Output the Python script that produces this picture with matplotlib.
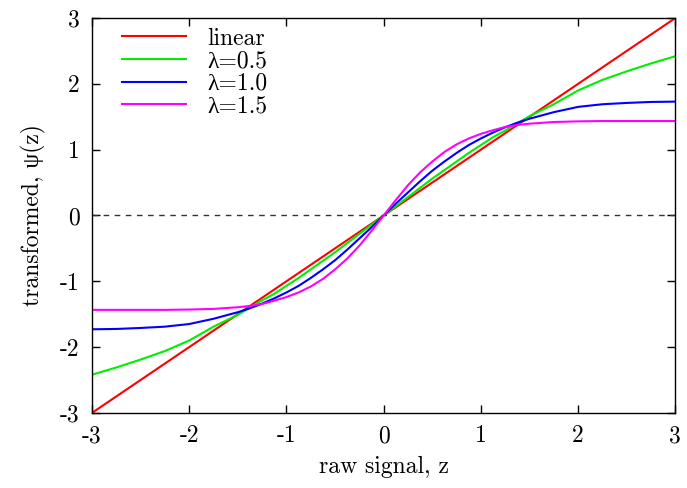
import numpy as np
import matplotlib
matplotlib.use("Agg")
import matplotlib.pyplot as plt

# values
z = [-3.0, -2.75, -2.5, -2.25, -2.0, -1.75, -1.5, -1.375, -1.25, -1.125, -1.0, -0.875,
     -0.75, -0.625, -0.5, -0.375, -0.25, -0.125, 0.0,
     0.125, 0.25, 0.375, 0.5, 0.625, 0.75, 0.875, 1.0, 1.125, 1.25, 1.375, 1.5,
     1.75, 2.0, 2.25, 2.5, 2.75, 3.0]
linear = z
lam05 = [-2.42, -2.31, -2.19, -2.06, -1.90, -1.69, -1.51, -1.40, -1.29, -1.19, -1.07, -0.95,
         -0.82, -0.69, -0.56, -0.42, -0.28, -0.14, 0.0,
         0.14, 0.28, 0.42, 0.56, 0.69, 0.82, 0.95, 1.07, 1.19, 1.29, 1.40, 1.51,
         1.69, 1.90, 2.06, 2.19, 2.31, 2.42]
lam10 = [-1.73, -1.725, -1.71, -1.69, -1.65, -1.57, -1.47, -1.41, -1.34, -1.26, -1.17, -1.07,
         -0.95, -0.82, -0.68, -0.52, -0.35, -0.18, 0.0,
         0.18, 0.35, 0.52, 0.68, 0.82, 0.95, 1.07, 1.17, 1.26, 1.34, 1.41, 1.47,
         1.57, 1.65, 1.69, 1.71, 1.725, 1.73]
lam15 = [-1.435, -1.435, -1.435, -1.435, -1.43, -1.42, -1.395, -1.375, -1.345, -1.295, -1.24, -1.17,
         -1.08, -0.965, -0.82, -0.655, -0.46, -0.235, 0.0,
         0.235, 0.46, 0.655, 0.82, 0.965, 1.08, 1.17, 1.24, 1.295, 1.345, 1.375, 1.395,
         1.42, 1.43, 1.435, 1.435, 1.435, 1.435]

series = [linear, lam05, lam10, lam15]
labels = ['linear', 'λ=0.5', 'λ=1.0', 'λ=1.5']
colors = ['#ff0000', '#00ee00', '#0000ff', '#ff00ff']
ticks = [-3, -2, -1, 0, 1, 2, 3]

plt.rcParams['font.family'] = ['cmr10', 'Liberation Serif', 'DejaVu Serif']
plt.rcParams['axes.unicode_minus'] = False
plt.rcParams['font.size'] = 17

fig = plt.figure(figsize=(6.87, 4.88), dpi=100)
ax = fig.add_axes([0.134, 0.154, 0.849, 0.809])

ax.axhline(0, color='#333333', linewidth=1, linestyle=(0, (4, 4)))
for y, lab, c in zip(series, labels, colors):
    ax.plot(z, y, color=c, linewidth=1.5, label=lab)

ax.set_xlim(-3, 3)
ax.set_ylim(-3, 3)
ax.set_xticks(ticks)
ax.set_yticks(ticks)
ax.tick_params(direction='in', length=6, width=1, top=True, right=True, pad=9)
for s in ax.spines.values():
    s.set_linewidth(1)

ax.set_xlabel('raw signal, z', labelpad=6)
ax.set_ylabel('transformed, ψ(z)', labelpad=10)

ax.legend(loc='upper left', frameon=False, handlelength=2.7, handletextpad=0.9,
          labelspacing=0.02, borderaxespad=0.0, bbox_to_anchor=(0.035, 1.0))

fig.savefig('out.png', dpi=100)
